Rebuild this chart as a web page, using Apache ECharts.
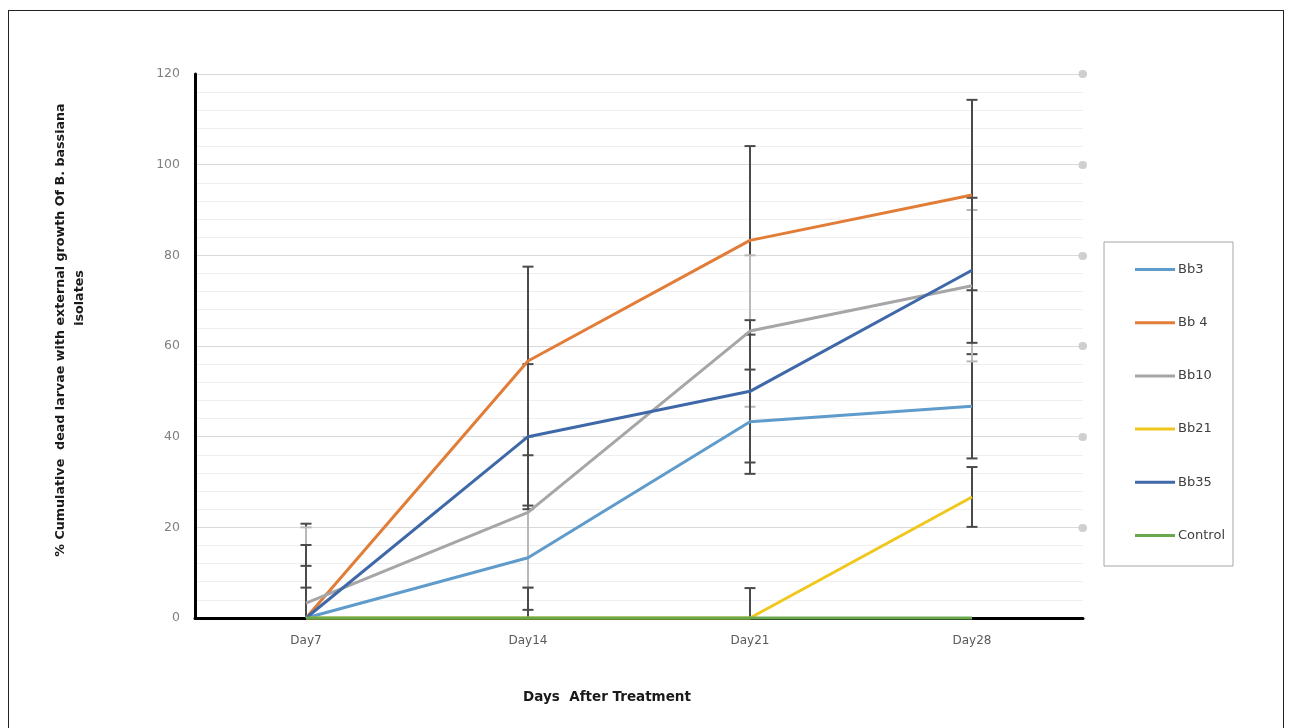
<!DOCTYPE html>
<html>
<head>
<meta charset="utf-8">
<script src="https://cdn.jsdelivr.net/npm/echarts@6/dist/echarts.min.js"></script>
<style>
html,body{margin:0;padding:0;background:#fff;}
#frame{position:absolute;left:8px;top:10px;width:1276px;height:730px;border:1px solid #222;box-sizing:border-box;}
#chart{position:absolute;left:0;top:0;width:1291px;height:728px;}
</style>
</head>
<body>
<div id="frame"></div>
<div id="chart"></div>
<script>
// ---- data ----
const categories = ['Day7', 'Day14', 'Day21', 'Day28'];
const seriesNames = ['Bb3', 'Bb 4', 'Bb10', 'Bb21', 'Bb35', 'Control'];
const bb3 = [0, 13.3, 43.3, 46.7];
const bb4 = [0, 56.7, 83.3, 93.3];
const bb10 = [3.3, 23.3, 63.3, 73.3];
const bb21 = [0, 0, 0, 26.7];
const bb35 = [0, 40, 50, 76.7];
const control = [0, 0, 0, 0];
// error (± values)
const errBb3 = [11.5, 11.5, 11.5, 11.5];
const errBb4 = [20.8, 20.8, 20.8, 21.0];
const errBb10 = [16.7, 16.6, 16.7, 16.7];
const errBb21 = [6.7, 6.7, 6.6, 6.6];
const errBb35 = [16.1, 16.0, 15.7, 16.0];
const errControl = [0, 0, 0, 0];
const yTicks = [0, 20, 40, 60, 80, 100, 120];
const yTitleLine1 = '% Cumulative  dead larvae with external growth Of B. bassiana';
const yTitleLine2 = 'isolates';
const xTitle = 'Days  After Treatment';

const values = [bb3, bb4, bb10, bb21, bb35, control];
const errors = [errBb3, errBb4, errBb10, errBb21, errBb35, errControl];
const colors = ['#5f9bcb', '#e27d38', '#a6a6a6', '#f0c71c', '#3f68a8', '#6aa84f'];
const errColors = ['#4a4a4a', '#4a4a4a', '#b8b8b8', '#4a4a4a', '#4a4a4a', '#4a4a4a'];
const FONT = 'DejaVu Sans, Verdana, sans-serif';

const chart = echarts.init(document.getElementById('chart'), null, {renderer: 'canvas'});

const series = [];
// error bar series (drawn beneath lines)
values.forEach((vals, si) => {
  const errData = vals.map((v, i) => [i, v - errors[si][i], v + errors[si][i]]);
  series.push({
    type: 'custom',
    name: seriesNames[si] + ' err',
    xAxisIndex: 0, yAxisIndex: 0,
    clip: true,
    z: 2 + si * 0.01,
    silent: true,
    data: errData.filter(d => d[2] - d[1] > 0),
    renderItem: function (params, api) {
      const x = api.value(0);
      const lo = api.coord([x, api.value(1)]);
      const hi = api.coord([x, api.value(2)]);
      const hw = 5.5;
      const style = {stroke: errColors[si], lineWidth: 2, fill: null};
      return {
        type: 'group',
        children: [
          {type: 'line', shape: {x1: hi[0], y1: hi[1], x2: lo[0], y2: lo[1]}, style: style},
          {type: 'line', shape: {x1: hi[0] - hw, y1: hi[1], x2: hi[0] + hw, y2: hi[1]}, style: style},
          {type: 'line', shape: {x1: lo[0] - hw, y1: lo[1], x2: lo[0] + hw, y2: lo[1]}, style: style}
        ]
      };
    }
  });
});
values.forEach((vals, si) => {
  series.push({
    type: 'line',
    name: seriesNames[si],
    data: vals,
    symbol: 'none',
    lineStyle: {width: 3, color: colors[si]},
    itemStyle: {color: colors[si]},
    z: 5,
    clip: false
  });
});

const option = {
  animation: false,
  backgroundColor: 'transparent',
  textStyle: {fontFamily: FONT},
  grid: {left: 195, right: 208, top: 74, bottom: 110, containLabel: false},
  legend: {
    data: seriesNames,
    orient: 'vertical',
    left: 1104,
    top: 242,
    padding: [21, 8, 24, 31],
    itemGap: 40.2,
    itemWidth: 40,
    itemHeight: 3,
    icon: 'rect',
    borderColor: '#a6a6a6',
    borderWidth: 1,
    textStyle: {fontSize: 13, color: '#404040', fontFamily: FONT, padding: [0, 0, 0, -2]}
  },
  graphic: [
    {type: 'text', x: 61, y: 330, rotation: Math.PI / 2,
      style: {text: yTitleLine1, fontFamily: FONT, fontWeight: 'bold', fontSize: 12.7, fill: '#1a1a1a', align: 'center', verticalAlign: 'middle'}},
    {type: 'text', x: 80, y: 298, rotation: Math.PI / 2,
      style: {text: yTitleLine2, fontFamily: FONT, fontWeight: 'bold', fontSize: 12.7, fill: '#1a1a1a', align: 'center', verticalAlign: 'middle'}},
    {type: 'text', x: 607, y: 697,
      style: {text: xTitle, fontFamily: FONT, fontWeight: 'bold', fontSize: 13.5, fill: '#1a1a1a', align: 'center', verticalAlign: 'middle'}}
  ],
  xAxis: {
    type: 'category',
    data: categories,
    boundaryGap: true,
    axisLine: {show: true, lineStyle: {color: '#000', width: 3}},
    axisTick: {show: false},
    axisLabel: {color: '#595959', fontSize: 12, margin: 17, fontFamily: FONT},
    splitLine: {show: false}
  },
  yAxis: [{
    type: 'value',
    min: 0, max: 120, interval: 20,
    axisLine: {show: true, lineStyle: {color: '#000', width: 3}},
    axisTick: {show: false},
    axisLabel: {color: '#7f7f7f', fontSize: 12.5, margin: 15, fontFamily: FONT, formatter: v => yTicks.includes(v) ? String(v) : ''},
    splitLine: {show: true, lineStyle: {color: '#d9d9d9', width: 1}},
    minorTick: {show: false, splitNumber: 5},
    minorSplitLine: {show: true, lineStyle: {color: '#efefef', width: 1}}
  }, {
    type: 'value',
    position: 'right',
    min: 0, max: 120, interval: 20,
    axisLine: {show: false},
    axisLabel: {show: false},
    splitLine: {show: false},
    axisTick: {show: true, inside: true, length: 0.5, customValues: [20, 40, 60, 80, 100, 120],
      lineStyle: {color: '#cfcfcf', width: 8, cap: 'round'}}
  }],
  series: series
};
chart.setOption(option);
</script>
</body>
</html>
